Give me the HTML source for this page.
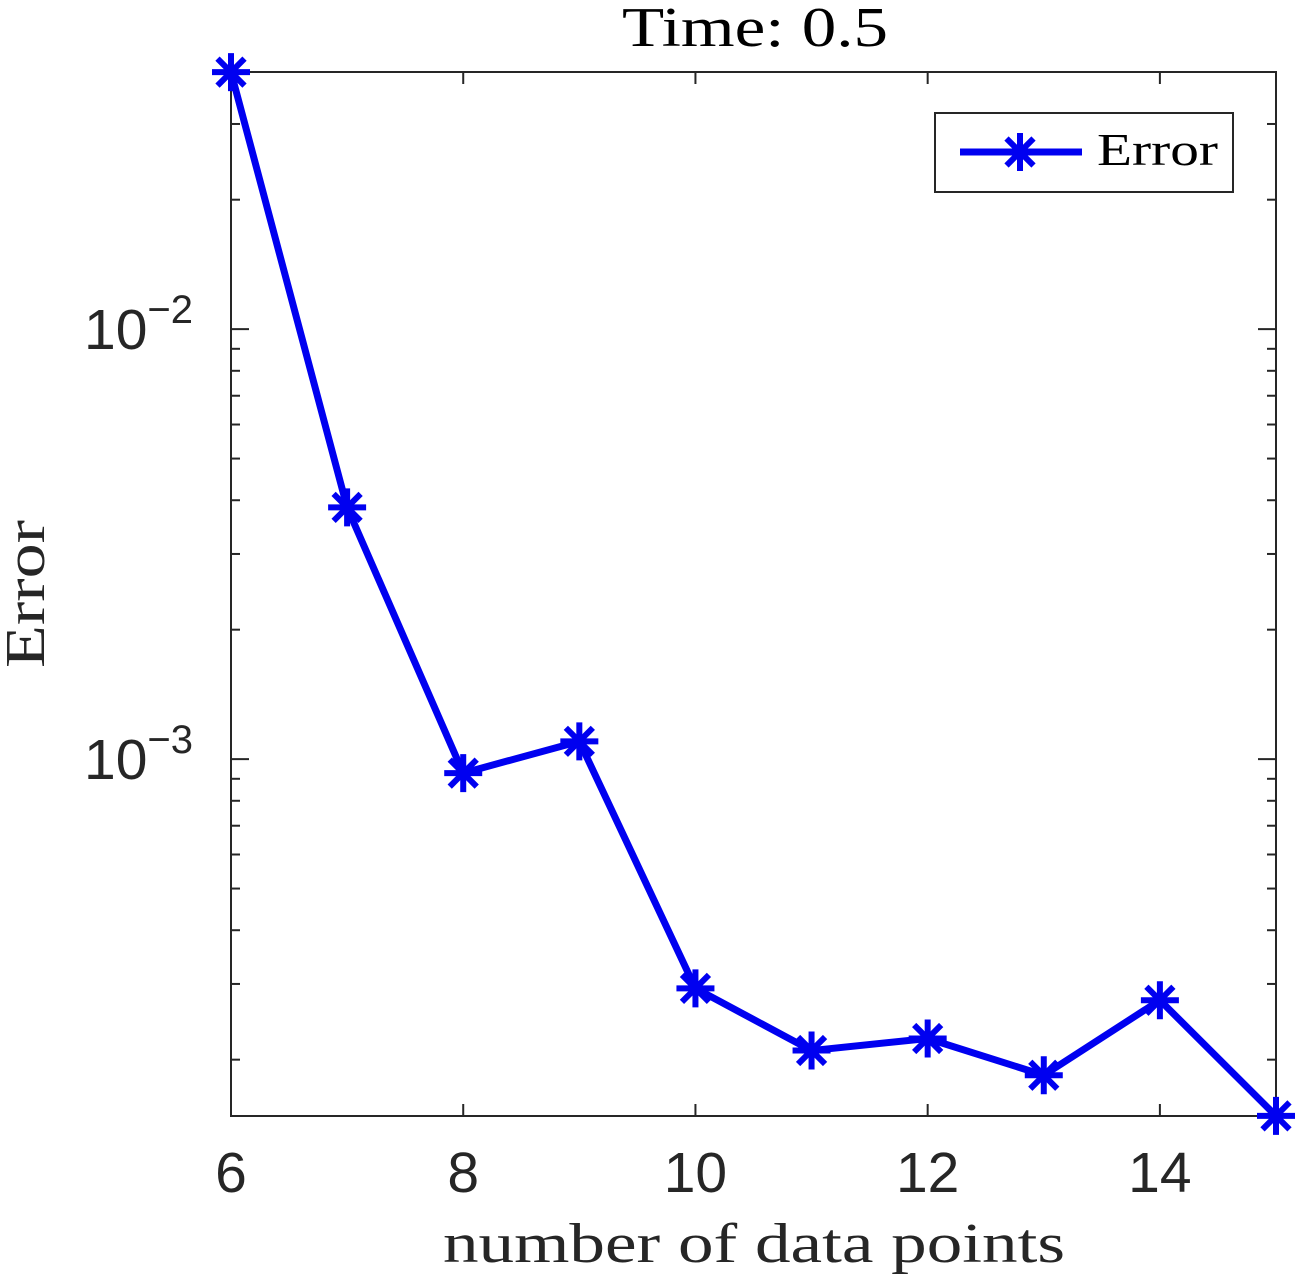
<!DOCTYPE html>
<html><head><meta charset="utf-8"><style>
html,body{margin:0;padding:0;background:#fff;}
svg{display:block;}
</style></head><body>
<svg id="chart" width="1298" height="1278" viewBox="0 0 1298 1278" xmlns="http://www.w3.org/2000/svg">
<rect x="0" y="0" width="1298" height="1278" fill="#fff"/>
<g id="axes"></g>
<g id="series"></g>
<text x="622" y="46" textLength="266" lengthAdjust="spacingAndGlyphs" font-family="'Liberation Serif',serif" font-size="56" fill="#000">Time: 0.5</text>
<text x="443" y="1262" textLength="622" lengthAdjust="spacingAndGlyphs" font-family="'Liberation Serif',serif" font-size="56" fill="#262626">number of data points</text>
<text transform="translate(44,668) rotate(-90)" textLength="148" lengthAdjust="spacingAndGlyphs" font-family="'Liberation Serif',serif" font-size="56" fill="#262626">Error</text>
<g>
<rect x="935" y="113" width="298" height="79" fill="#fff" stroke="#262626" stroke-width="2"/>
<line x1="960" y1="152" x2="1082" y2="152" stroke="#0000f0" stroke-width="7"/>
<g id="legmark"></g>
<text x="1097" y="165" textLength="121" lengthAdjust="spacingAndGlyphs" font-family="'Liberation Serif',serif" font-size="46" fill="#000">Error</text>
</g>
</svg>
<script>
const xValues=[6,7,8,9,10,11,12,13,14,15];
const errorValues=[0.0396,0.00385,0.000928,0.0011,0.000293,0.00021,0.000224,0.000184,0.000275,0.000148];
const xTicks=[6,8,10,12,14];
const xTickLabels=["6","8","10","12","14"];
const yDecades=[-3,-2];
const NS="http://www.w3.org/2000/svg";
const L=231,R=1276,T=72,B=1116;
const xMin=6,xMax=15;
const yLogTop=-1.402,yLogBot=-3.830;
function xs(v){return L+(v-xMin)/(xMax-xMin)*(R-L);}
function ys(v){const l=Math.log10(v);return T+(yLogTop-l)/(yLogTop-yLogBot)*(B-T);}
function mk(tag,attrs,parent){const e=document.createElementNS(NS,tag);for(const k in attrs)e.setAttribute(k,attrs[k]);parent.appendChild(e);return e;}
const axes=document.getElementById('axes');
const fr=mk('rect',{x:L,y:T,width:R-L,height:B-T,fill:'none',stroke:'#262626','stroke-width':2},axes);


xTicks.forEach((t,i)=>{
  const x=xs(t);
  const a=mk('line',{x1:x,y1:B,x2:x,y2:B-12,stroke:'#262626','stroke-width':2},axes);
  
  
  mk('line',{x1:x,y1:T,x2:x,y2:T+12,stroke:'#262626','stroke-width':2},axes);
  const tx=mk('text',{x:x,y:1192,'font-family':"'Liberation Sans',sans-serif",'font-size':57,'text-anchor':'middle',fill:'#262626'},axes);
  tx.textContent=xTickLabels[i];
  
  
});
for(let d=-4;d<=-2;d++){
  for(let m=1;m<10;m++){
    const v=m*Math.pow(10,d);
    const y=ys(v);
    if(y<T-1||y>B+1)continue;
    const len=m===1?18:9;
    const a=mk('line',{x1:L,y1:y,x2:L+len,y2:y,stroke:'#262626','stroke-width':2},axes);
    
    
    mk('line',{x1:R,y1:y,x2:R-len,y2:y,stroke:'#262626','stroke-width':2},axes);
  }
}
yDecades.forEach(d=>{
  const y=ys(Math.pow(10,d));
  const t=mk('text',{x:84,y:y+20,'font-family':"'Liberation Sans',sans-serif",'font-size':57,fill:'#262626'},axes);
  
  
  const b=mk('tspan',{},t);b.textContent='10';
  const s=mk('tspan',{dy:-26,'font-size':40},t);
  s.textContent='\u2212'+(-d);
});
const ser=document.getElementById('series');
const pts=xValues.map((x,i)=>xs(x)+','+ys(errorValues[i])).join(' ');
const pl=mk('polyline',{points:pts,fill:'none',stroke:'#0000f0','stroke-width':7,'stroke-linejoin':'round'},ser);


function star(cx,cy,parent){
  const g=mk('g',{stroke:'#0000f0','stroke-width':6},parent);
  const r=19,d=13.5;
  mk('line',{x1:cx-r,y1:cy,x2:cx+r,y2:cy},g);
  mk('line',{x1:cx,y1:cy-r,x2:cx,y2:cy+r},g);
  mk('line',{x1:cx-d,y1:cy-d,x2:cx+d,y2:cy+d},g);
  mk('line',{x1:cx-d,y1:cy+d,x2:cx+d,y2:cy-d},g);
  return g;
}
xValues.forEach((x,i)=>{
  const g=star(xs(x),ys(errorValues[i]),ser);
  
  
});
star(1020,152,document.getElementById('legmark'));
</script>
</body></html>
